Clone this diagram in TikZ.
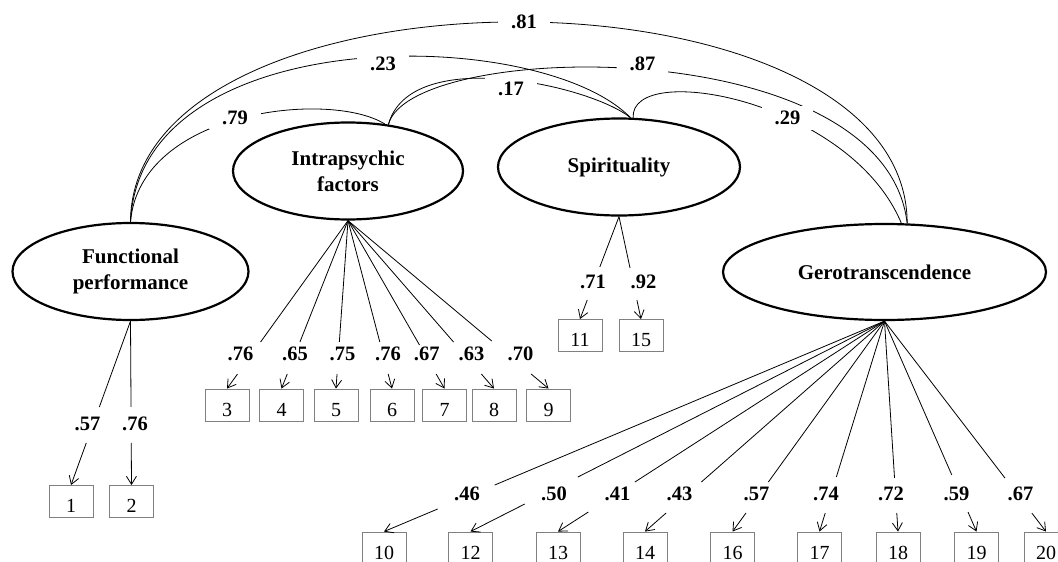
\documentclass[tikz,border=0pt]{standalone}
\usepackage{fontspec}
\setmainfont{Liberation Serif}
\usetikzlibrary{shapes.geometric,arrows.meta}
\begin{document}
\begin{tikzpicture}[x=1pt,y=-1pt,
  lat/.style={ellipse, draw, line width=2.2pt, inner sep=0pt, align=center, font=\bfseries\fontsize{21}{26}\selectfont},
  ind/.style={rectangle, draw=gray, line width=0.9pt, minimum width=44pt, minimum height=32pt, inner sep=0pt, text height=22pt, text depth=0pt, font=\fontsize{20}{24}\selectfont},
  ld/.style={line width=0.8pt},
  tipped/.style={ld, -{Straight Barb[length=8pt,width=10pt]}},
  lab/.style={font=\bfseries\fontsize{20.5}{24}\selectfont, inner sep=0pt},
  cov/.style={line width=0.8pt},
  clab/.style={lab, fill=white, inner xsep=13pt, inner ysep=5pt, text height=13.5pt, text depth=0pt}]
\useasboundingbox (0,0) rectangle (1058,562);

% latent variables
\node[lat, minimum width=236pt, minimum height=97pt] (F) at (130.5,271.5) {Functional\\performance};
\node[lat, minimum width=230pt, minimum height=97pt] (I) at (348,171) {Intrapsychic\\factors};
\node[lat, minimum width=242pt, minimum height=97pt] (S) at (619,167) {Spirituality};
\node[lat, minimum width=323pt, minimum height=96pt] (G) at (884.5,272) {Gerotranscendence};

% indicators
\node[ind] (b1) at (71,501.5) {1};
\node[ind] (b2) at (131.5,501.5) {2};
\node[ind] (b3) at (227,405) {3};
\node[ind] (b4) at (281.5,405) {4};
\node[ind] (b5) at (336,405) {5};
\node[ind] (b6) at (392,405) {6};
\node[ind] (b7) at (444.5,405) {7};
\node[ind] (b8) at (494,405) {8};
\node[ind] (b9) at (548.5,405) {9};
\node[ind] (b11) at (580,335.5) {11};
\node[ind] (b15) at (641,335.5) {15};
\node[ind] (b10) at (384,548) {10};
\node[ind] (b12) at (470.5,548) {12};
\node[ind] (b13) at (558,548) {13};
\node[ind] (b14) at (645,548) {14};
\node[ind] (b16) at (732.5,548) {16};
\node[ind] (b17) at (819.5,548) {17};
\node[ind] (b18) at (898,548) {18};
\node[ind] (b19) at (976.5,548) {19};
\node[ind] (b20) at (1046,548) {20};

% loadings: line from latent, gap for the label, arrow to indicator
\newcommand\loadarrow[4]{%
  \draw[ld] (#1) -- (intersection of #1--#2.north and 0,#3--100,#3);
  \draw[tipped] (intersection of #1--#2.north and 0,#4--100,#4) -- (#2.north);}
\loadarrow{F.south}{b1}{407}{443}
\loadarrow{F.south}{b2}{407}{443}
\loadarrow{I.south}{b3}{342}{374}
\loadarrow{I.south}{b4}{342}{374}
\loadarrow{I.south}{b5}{342}{374}
\loadarrow{I.south}{b6}{342}{374}
\loadarrow{I.south}{b7}{345}{374}
\loadarrow{I.south}{b8}{342}{374}
\loadarrow{I.south}{b9}{341}{374}
\loadarrow{S.south}{b11}{267}{300}
\loadarrow{S.south}{b15}{268}{300}
\loadarrow{G.south}{b10}{485}{509}
\loadarrow{G.south}{b12}{477}{504}
\loadarrow{G.south}{b13}{482}{512}
\loadarrow{G.south}{b14}{482}{513}
\loadarrow{G.south}{b16}{482}{513}
\loadarrow{G.south}{b17}{477}{513}
\loadarrow{G.south}{b18}{478}{513}
\loadarrow{G.south}{b19}{475}{512}
\loadarrow{G.south}{b20}{478}{513}

% loading labels
\node[lab] (l1) at (87.5,423.5) {.57};
\node[lab] (l2) at (135,423.5) {.76};
\node[lab] (l3) at (240.5,354) {.76};
\node[lab] (l4) at (295,354) {.65};
\node[lab] (l5) at (342.5,354) {.75};
\node[lab] (l6) at (388,354) {.76};
\node[lab] (l7) at (426.7,354) {.67};
\node[lab] (l8) at (471.5,354) {.63};
\node[lab] (l9) at (520.5,354) {.70};
\node[lab] (l11) at (593,282) {.71};
\node[lab] (l15) at (643.5,282) {.92};
\node[lab] (l10) at (467,493.5) {.46};
\node[lab] (l12) at (554,493.5) {.50};
\node[lab] (l13) at (617.5,493.5) {.41};
\node[lab] (l14) at (679.5,493.5) {.43};
\node[lab] (l16) at (756.5,493.5) {.57};
\node[lab] (l17) at (826,493.5) {.74};
\node[lab] (l18) at (891,493.5) {.72};
\node[lab] (l19) at (956.5,493.5) {.59};
\node[lab] (l20) at (1020.5,493.5) {.67};

% covariances
\draw[cov] (F.north) .. controls (132,-46) and (907,-44) .. (G.65);
\draw[cov] (F.north) .. controls (140,20) and (540,25) .. (S.77);
\draw[cov] (F.north) .. controls (140,110) and (330,90) .. (I.52);
\draw[cov] (I.49) .. controls (410,40) and (885,30) .. (G.65);
\draw[cov] (I.49) .. controls (410,45) and (590,85) .. (S.77);
\draw[cov] (S.74) .. controls (630,60) and (850,100) .. (G.71);

\node[clab] (c81) at (524,21.7) {.81};
\node[clab] (c23) at (383,64) {.23};
\node[clab] (c87) at (642.5,64) {.87};
\node[clab] (c17) at (511,88.5) {.17};
\node[clab] (c79) at (235,117.5) {.79};
\node[clab] (c29) at (787.5,118) {.29};
\end{tikzpicture}
\end{document}
